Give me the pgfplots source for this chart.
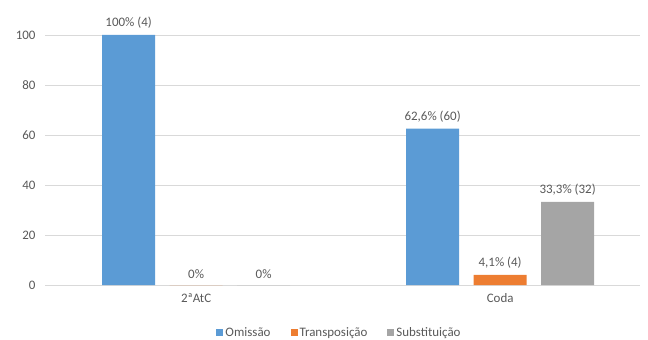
\documentclass[border=0pt]{standalone}
\usepackage{pgfplots}
\pgfplotsset{compat=1.18}
\usepackage{fontspec}
\setmainfont{Carlito}
\definecolor{cblue}{HTML}{5B9BD5}
\definecolor{corange}{HTML}{ED7D31}
\definecolor{cgray}{HTML}{A5A5A5}
\definecolor{txt}{HTML}{595959}
\definecolor{gridc}{HTML}{D9D9D9}
\begin{document}
\begin{tikzpicture}[x=1bp,y=1bp]
\useasboundingbox (0,0) rectangle (648,339);
\begin{axis}[
  at={(45bp,54bp)}, anchor=south west, scale only axis,
  width=595bp, height=250bp,
  xmin=-0.497, xmax=1.46, ymin=0, ymax=100,
  ybar=14.5bp, bar width=53bp,
  xtick={0,1}, xticklabels={2ªAtC, Coda},
  ytick={0,20,...,100},
  ymajorgrids, grid style={gridc, line width=0.8bp},
  axis line style={draw=none}, tick style={draw=none},
  ticklabel style={font=\fontsize{13}{15}\selectfont, text=txt},
  /pgf/number format/assume math mode=true,
  xticklabel style={yshift=-1bp},
  yticklabel style={xshift=-6bp},
  nodes near coords, point meta=explicit symbolic,
  every node near coord/.append style={font=\fontsize{13}{15}\selectfont, text=txt, yshift=3bp},
  legend style={at={(0.495,-0.19)}, anchor=center, draw=none, fill=none,
    legend columns=3, font=\fontsize{13}{15}\selectfont, text=txt,
    /tikz/every even column/.append style={column sep=18bp}},
  legend image code/.code={\fill[#1] (0bp,-3.5bp) rectangle (7bp,3.5bp);},
]
\addplot[fill=cblue, draw=none] coordinates {(0,100) [100\% (4)] (1,62.6) [62,6\% (60)]};
\addplot[fill=corange, draw=none] coordinates {(0,0) [0\%] (1,4.1) [4,1\% (4)]};
\addplot[fill=cgray, draw=none] coordinates {(0,0) [0\%] (1,33.3) [33,3\% (32)]};
\legend{Omissão, Transposição, Substituição}
\end{axis}
\end{tikzpicture}
\end{document}
